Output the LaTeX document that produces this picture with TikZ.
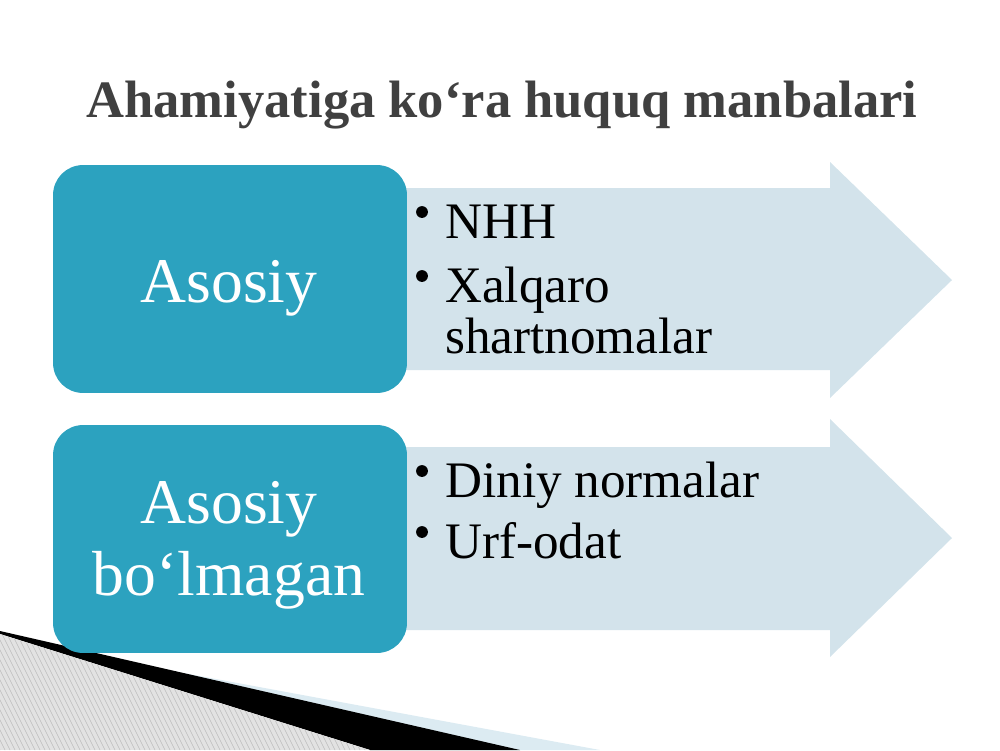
\documentclass[tikz,border=0pt]{standalone}
\usepackage{fontspec}
\setmainfont{Liberation Serif}
\definecolor{boxteal}{RGB}{44,162,191}
\definecolor{arrowblue}{RGB}{211,227,235}
\definecolor{titlegray}{RGB}{64,64,64}
\definecolor{sliverblue}{RGB}{220,235,242}
\definecolor{hatchgray}{RGB}{226,226,226}
\definecolor{stripegray}{RGB}{188,188,188}

\begin{document}
\begin{tikzpicture}[x=0.0254cm,y=-0.0254cm]
      \tikzset{
        every node/.style={inner sep=0pt},
        headbox/.style={rectangle,rounded corners=0.76cm,fill=boxteal,minimum width=8.99cm,minimum height=5.79cm},
        headtext/.style={anchor=base,text=white,font=\fontsize{46}{52}\selectfont},
        itemtext/.style={anchor=base west,font=\fontsize{37}{42}\selectfont},
        dot/.style={circle,fill=black,minimum size=0.3cm},
        flow/.style={fill=arrowblue}
      }
      \useasboundingbox (0,0) rectangle (1000,750);

      % corner decoration
      \fill[sliverblue] (70,652) -- (600,750) -- (500,750) -- cycle;
      \fill[black] (0,631) -- (520,750) -- (370,750) -- (0,634) -- cycle;
      \begin{scope}
        \clip (0,634) -- (370,750) -- (0,750) -- cycle;
        \fill[hatchgray] (0,600) rectangle (400,750);
        \foreach \i in {-200,-195,...,400}
          \draw[stripegray,line width=0.4pt] (\i,600) -- ++(80,160);
      \end{scope}

      % arrows
      \fill[flow] (390,188) -- (830,188) -- (830,162) -- (952,280)
                  -- (830,398) -- (830,370) -- (390,370) -- cycle;
      \fill[flow] (390,447) -- (830,447) -- (830,419) -- (952,538)
                  -- (830,657) -- (830,630) -- (390,630) -- cycle;

      \node[anchor=base,text=titlegray,font=\bfseries\fontsize{38}{44}\selectfont] (title) at (502,117) {Ahamiyatiga ko‘ra huquq manbalari};

      \node[headbox] (k1) at (230,279) {};
      \node[headbox] (k2) at (230,539) {};
      \node[headtext] (k1a) at (229,302) {Asosiy};
      \node[headtext] (k2a) at (229,523) {Asosiy};
      \node[headtext] (k2b) at (229,595) {bo‘lmagan};

      \node[dot] (d1) at (422,212) {};
      \node[itemtext] (t1) at (445,238) {NHH};
      \node[dot] (d2) at (422,276) {};
      \node[itemtext] (t2) at (445,302) {Xalqaro};
      \node[itemtext] (t3) at (445,353) {shartnomalar};
      \node[dot] (d3) at (422,471) {};
      \node[itemtext] (t4) at (445,497) {Diniy normalar};
      \node[dot] (d4) at (422,532) {};
      \node[itemtext] (t5) at (445,558) {Urf-odat};
    \end{tikzpicture}
\end{document}
